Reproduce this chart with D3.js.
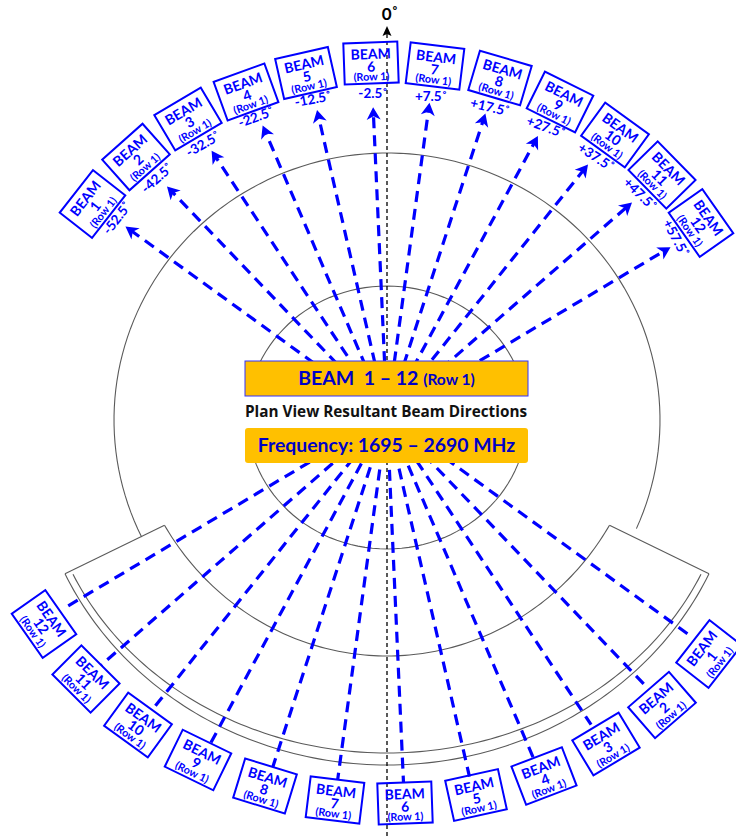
<!DOCTYPE html>
<html><head><meta charset="utf-8">
<script src="https://cdn.jsdelivr.net/npm/d3@7"></script>
<style>html,body{margin:0;padding:0;background:#fff}svg{display:block}text{font-family:Lato,"Open Sans",sans-serif;font-weight:700}</style>
</head><body><div id="c"></div>
<script>
const beamNumbers=[1,2,3,4,5,6,7,8,9,10,11,12];
const beamAngles=[-52.5,-42.5,-32.5,-22.5,-12.5,-2.5,7.5,17.5,27.5,37.5,47.5,57.5];
const angleLabels=["-52.5˚","-42.5˚","-32.5˚","-22.5˚","-12.5˚","-2.5˚","+7.5˚","+17.5˚","+27.5˚","+37.5˚","+47.5˚","+57.5˚"];
const topReach=[323,318,318,316,314,309,316,318,318,322,325,330];
const bottomReach=[377,372,370,372,370,367,367,369,371,373,379,377];
const topBoxX=[92.5,136,188,246,306,371,435,500,560,615,662,701];
const topBoxY=[204,157,119,92,73,63,66,78,102,135,175,223];
const topBoxRot=[-52,-41.7,-30.7,-20,-12.7,-2,7,16.5,26.4,36,45.5,55];
const topLabelX=[117,157,203,256,313,373,431,490,546,596,640,676];
const topLabelY=[218,178,144,117,99,93,96,107,127,157,194,238];
const topLabelRot=[-52,-42,-30,-20,-10,0,0,13,20,33,45,62];
const botBoxX=[709,662,606,544,476,405,335,265,198,138,86,44];
const botBoxY=[654,705,744,776,795,803,800,786,760,725,679,624];
const botBoxRot=[-52,-41,-31,-21,-12.5,-2,7,17,26,36,45,55];

const W=736,H=836,CX=387,CY=416;
const blue="#0000ff",navy="#0000c8",gold="#ffc000",grey="#5a5a5a";
const svg=d3.select("#c").append("svg").attr("width",W).attr("height",H).attr("viewBox",[0,0,W,H]);
const apparent=d3.scaleLinear().domain([-60,60]).range([-61.8,61.8]);
const rad=d=>d*Math.PI/180;
const project=(ang,r,s)=>{const a=rad(apparent(ang));return [CX+s*r*Math.sin(a),CY-s*r*Math.cos(a)];};
const lineGen=d3.line();
function ell(cx,cy,rx,ry,t0,t1){return lineGen(d3.range(0,121).map(i=>{const t=rad(t0+(t1-t0)*i/120);return [cx+rx*Math.sin(t),cy+ry*Math.cos(t)];}));}
function arcAcross(cx,cy,rx,ry,dx){const t=Math.asin(dx/rx)/Math.PI*180;return ell(cx,cy,rx,ry,-t,t);}
const g0=svg.append("g").attr("fill","none").attr("stroke",grey).attr("stroke-width",1.1);
g0.append("path").attr("d",ell(387,420,273,267,66,296));
g0.append("path").attr("d",ell(387,417.5,140,131.5,0,360));
g0.append("path").attr("d",arcAcross(387,385,260,271,222.5));
g0.append("path").attr("d",arcAcross(387,448,345,305,314));
g0.append("path").attr("d",arcAcross(387,438,354,327,322));
const arcY=(dx)=>385+271*Math.sqrt(1-(dx/260)**2), arcY2=(dx)=>438+327*Math.sqrt(1-(dx/354)**2);
[[-222.5,-322],[222.5,322]].forEach(e=>g0.append("path").attr("d",lineGen([[387+e[0],arcY(e[0])],[387+e[1],arcY2(e[1])]])));

// beams
const gb=svg.append("g");
beamAngles.forEach((a,i)=>{
  const p0=project(a,topReach[i]-8,1),c=[CX,CY];
  gb.append("path").attr("d",lineGen([c,p0])).attr("stroke",blue).attr("stroke-width",3.2).attr("stroke-dasharray","11 7").attr("fill","none");
  const q=project(a,bottomReach[i],-1);
  gb.append("path").attr("d",lineGen([c,q])).attr("stroke",blue).attr("stroke-width",3.2).attr("stroke-dasharray","11 7").attr("fill","none");
  const tip=project(a,topReach[i],1),rot=apparent(a);
  gb.append("path").attr("d","M0,0L7,12.5L0,9L-7,12.5Z").attr("fill",blue).attr("transform",`translate(${tip[0]},${tip[1]}) rotate(${rot})`);
});
// zero line
svg.append("path").attr("d",lineGen([[CX,34],[CX,H]])).attr("stroke","#000").attr("stroke-width",1.3).attr("stroke-dasharray","4 3").attr("fill","none");
svg.append("path").attr("d","M0,0L4.5,10L0,8L-4.5,10Z").attr("transform",`translate(${CX},26)`).attr("fill","#000");
svg.append("text").attr("x",CX+3).attr("y",20).attr("text-anchor","middle").attr("font-size",17).attr("fill","#000").text("0˚");

// centre panels
svg.append("rect").attr("x",244).attr("y",396).attr("width",286).attr("height",33).attr("fill","#fff");
svg.append("rect").attr("x",245).attr("y",361).attr("width",283).attr("height",35).attr("fill",gold).attr("stroke","#3333ff").attr("stroke-width",1);
const t1=svg.append("text").attr("x",386.5).attr("y",385).attr("text-anchor","middle").attr("fill",navy).attr("font-size",19.5).attr("xml:space","preserve");
t1.append("tspan").text("BEAM  1 – 12 ");t1.append("tspan").attr("font-size",15.5).text("(Row 1)");
svg.append("text").attr("x",386).attr("y",417).attr("text-anchor","middle").attr("fill","#111").attr("font-size",15.3).style("font-family","'Open Sans'").text("Plan View Resultant Beam Directions");
svg.append("rect").attr("x",245).attr("y",428).attr("width",283).attr("height",35).attr("rx",3).attr("fill",gold);
svg.append("text").attr("x",386.5).attr("y",451.5).attr("text-anchor","middle").attr("fill",navy).attr("font-size",19.4).text("Frequency: 1695 – 2690 MHz");

// boxes
function box(x,y,rot,n){
  const g=svg.append("g").attr("transform",`translate(${x},${y}) rotate(${rot})`);
  g.append("rect").attr("x",-27).attr("y",-20.5).attr("width",54).attr("height",41).attr("fill","none").attr("stroke",blue).attr("stroke-width",2);
  const t=(yy,s,fs)=>g.append("text").attr("y",yy).attr("text-anchor","middle").attr("font-size",fs).attr("fill",blue).text(s);
  t(-4,"BEAM",14);t(8.5,n,14);t(17.5,"(Row 1)",10.8);
}
beamNumbers.forEach((n,i)=>{
  box(topBoxX[i],topBoxY[i],topBoxRot[i],n);
  svg.append("text").attr("transform",`translate(${topLabelX[i]},${topLabelY[i]}) rotate(${topLabelRot[i]})`).attr("text-anchor","middle").attr("dy","0.35em").attr("font-size",13.5).attr("fill",blue).text(angleLabels[i]);
  box(botBoxX[i],botBoxY[i],botBoxRot[i],n);
});
</script></body></html>
